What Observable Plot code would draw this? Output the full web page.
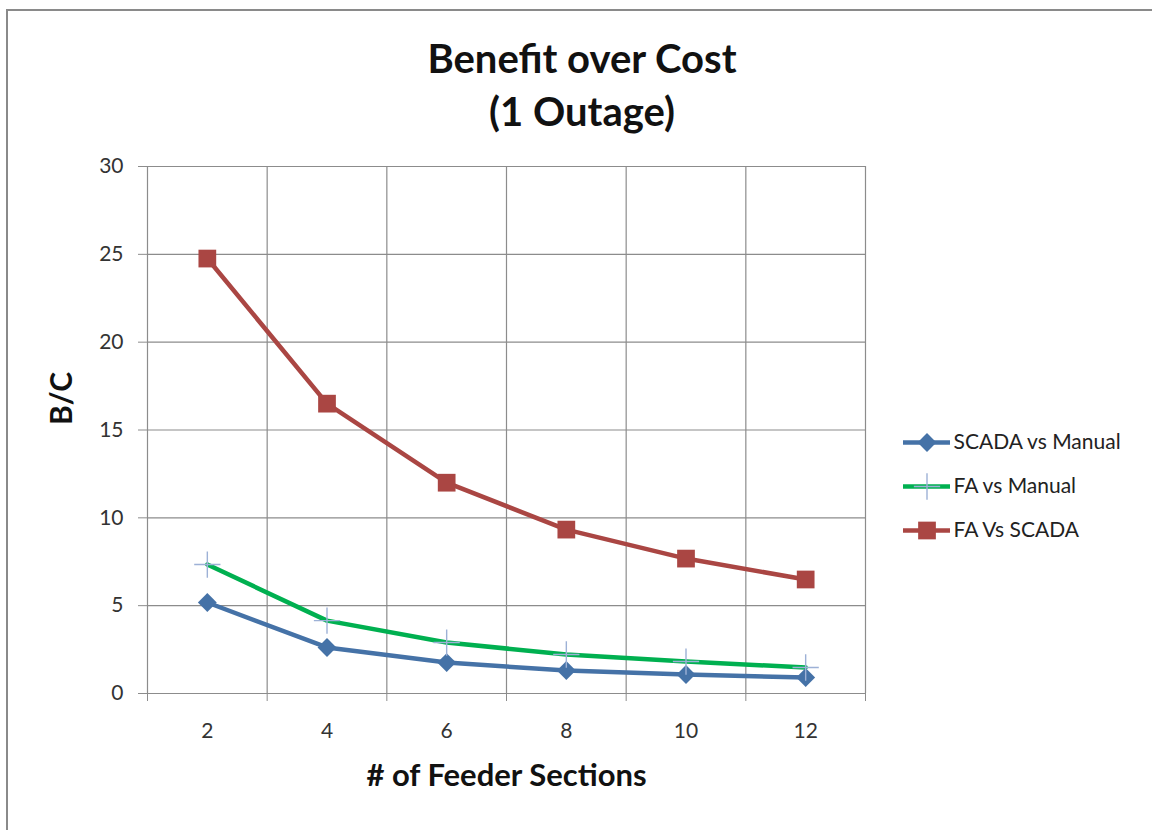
<!DOCTYPE html>
<html>
<head>
<meta charset="utf-8">
<script src="https://cdn.jsdelivr.net/npm/d3@7"></script>
<script src="https://cdn.jsdelivr.net/npm/@observablehq/plot@0.6"></script>
<style>
  html, body { margin: 0; padding: 0; background: #fff; overflow: hidden; }
  #chart { position: relative; width: 1152px; height: 830px; font-family: Lato, "Open Sans", sans-serif; }
  #border { position: absolute; left: 6px; top: 9px; width: 1200px; height: 900px; border: 2px solid #8a8a8a; box-sizing: border-box; }
  .title { position: absolute; left: 0; width: 1164px; text-align: center; font-weight: bold; font-size: 40px; line-height: 48px; color: #111; }
  #main { position: absolute; left: 0; top: 0; }
  #legend { position: absolute; left: 895px; top: 420px; }
</style>
</head>
<body>
<div id="chart">
  <div id="border"></div>
  <div class="title" style="top:34px">Benefit over Cost</div>
  <div class="title" style="top:87px">(1 Outage)</div>
  <div id="main"></div>
  <div id="legend"></div>
</div>
<script>
// Number of feeder sections (x categories)
const sections = [2, 4, 6, 8, 10, 12];
// Benefit / cost ratio per comparison
const scadaVsManual = [5.18, 2.62, 1.76, 1.31, 1.08, 0.91];
const faVsManual = [7.34, 4.15, 2.90, 2.22, 1.82, 1.48];
const faVsScada = [24.76, 16.5, 12.0, 9.33, 7.68, 6.49];
const seriesNames = ["SCADA vs Manual", "FA vs Manual", "FA Vs SCADA"];
const yTicks = [0, 5, 10, 15, 20, 25, 30];

const seriesValues = [scadaVsManual, faVsManual, faVsScada];
const colors = ["#4572A7", "#00B050", "#AA4643"];
const symbols = ["diamond2", "plus", "square"];

const rows = seriesNames.flatMap((name, i) =>
  sections.map((s, j) => ({ series: name, sections: s, bc: seriesValues[i][j] }))
);
// band boundaries between categories, used for vertical gridlines and x ticks
const bounds = [1, 3, 5, 7, 9, 11, 13];

const font = "Lato, 'Open Sans', sans-serif";
const markerR = (s) => (s === "square" ? 10 : 8.5);
const markerStyle = (s, color) => ({
  symbol: s,
  r: markerR(s),
  fill: s === "plus" ? "none" : color,
  stroke: s === "plus" ? "#9db1d6" : "none",
  strokeWidth: s === "plus" ? 1.4 : 0
});

const main = Plot.plot({
  width: 1152,
  height: 830,
  marginLeft: 147,
  marginRight: 287,
  marginTop: 166,
  marginBottom: 137,
  style: { fontFamily: font, fontSize: "21px", color: "#333", background: "transparent", overflow: "visible" },
  x: { type: "linear", domain: [1, 13] },
  y: { domain: [0, 30] },
  marks: [
    Plot.ruleY(yTicks, { stroke: "#8c8c8c", strokeWidth: 1.2 }),
    Plot.ruleX(bounds, { y1: 0, y2: 30, stroke: "#8c8c8c", strokeWidth: 1.2 }),
    Plot.axisY({ ticks: yTicks, tickSize: 9, tickPadding: 15, stroke: "#8c8c8c", label: null, fill: "#333", fontSize: 21 }),
    Plot.axisX({ ticks: bounds, tickSize: 8, tickFormat: () => "", stroke: "#8c8c8c", label: null }),
    Plot.axisX({ ticks: sections, tickSize: 0, tickPadding: 30, label: null, fill: "#333", fontSize: 21 }),
    Plot.line(rows, {
      x: "sections", y: "bc", z: "series",
      stroke: (d) => colors[seriesNames.indexOf(d.series)],
      strokeWidth: 4.5, curve: "linear"
    }),
    ...seriesNames.map((name, i) =>
      Plot.dot(rows.filter((d) => d.series === name), {
        x: "sections", y: "bc", ...markerStyle(symbols[i], colors[i])
      })
    ),
    Plot.text(["# of Feeder Sections"], {
      frameAnchor: "bottom", dy: 92, fontSize: 31, fontWeight: "bold", fill: "#111"
    }),
    Plot.text(["B/C"], {
      frameAnchor: "left", dx: -85, dy: -5, rotate: -90, fontSize: 30, fontWeight: "bold", fill: "#111"
    })
  ]
});
document.getElementById("main").append(main);

const legendRows = seriesNames.map((name, i) => ({ series: name, color: colors[i], symbol: symbols[i] }));
const legend = Plot.plot({
  width: 257,
  height: 132,
  margin: 0,
  style: { fontFamily: font, background: "transparent", overflow: "visible" },
  x: { domain: [0, 1], range: [8, 55], axis: null },
  y: { type: "point", domain: seriesNames, range: [22, 110], padding: 0, axis: null },
  marks: [
    Plot.ruleY(legendRows, { y: "series", x1: 0, x2: 1, stroke: (d) => d.color, strokeWidth: 4.5 }),
    ...legendRows.map((d) =>
      Plot.dot([d], { x: 0.5, y: "series", ...markerStyle(d.symbol, d.color) })
    ),
    Plot.text(legendRows, { x: 1, y: "series", text: "series", dx: 3, textAnchor: "start", fontSize: 21, fill: "#222" })
  ]
});
document.getElementById("legend").append(legend);
</script>
</body>
</html>
